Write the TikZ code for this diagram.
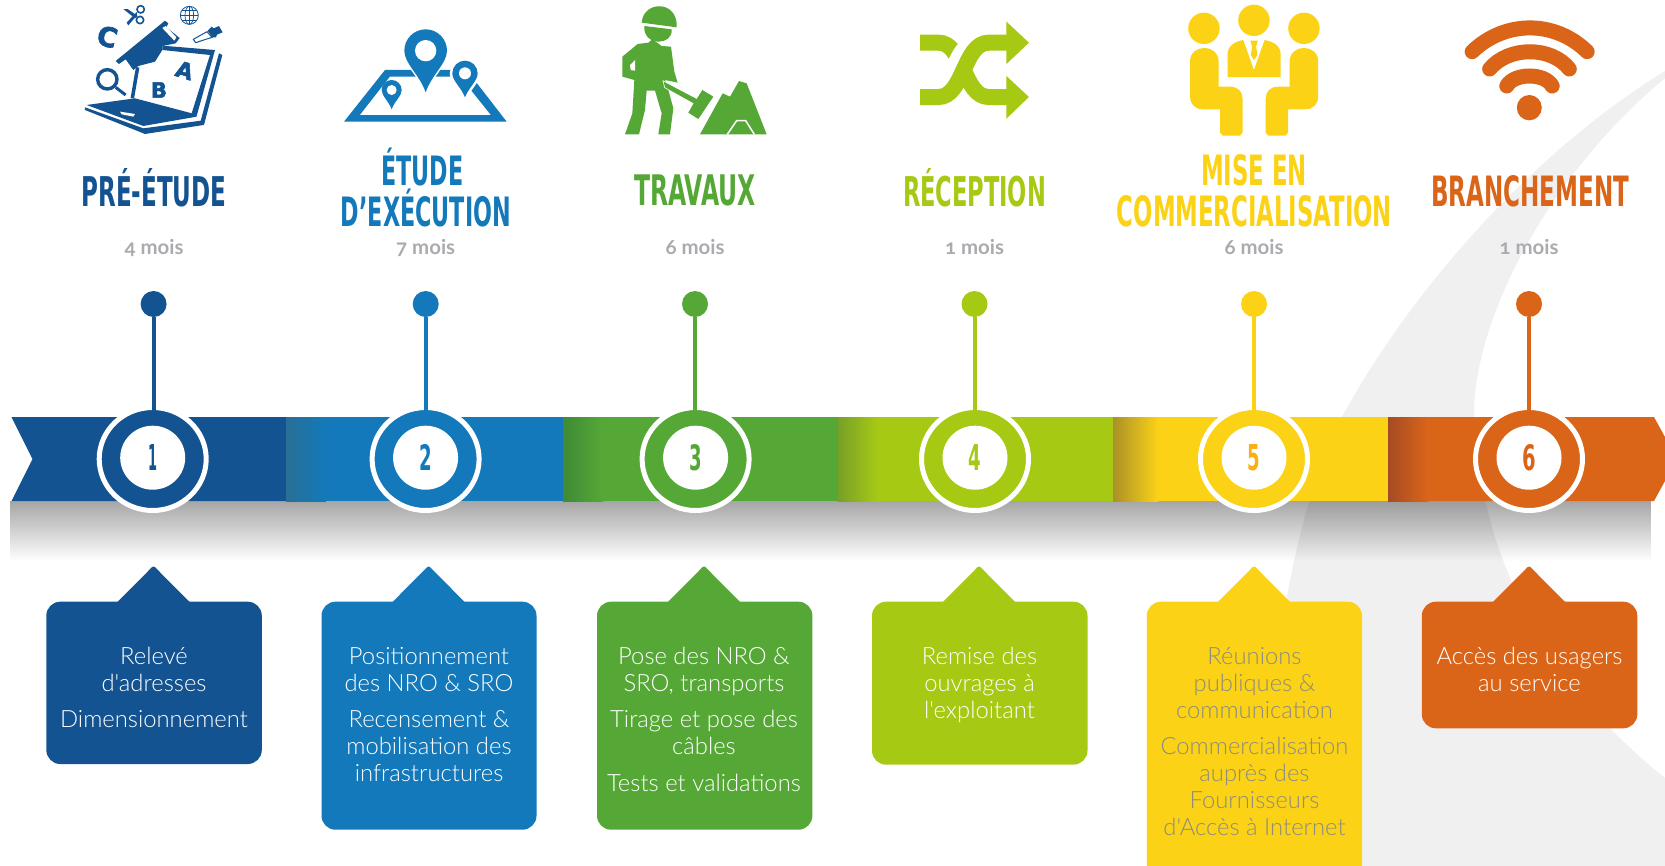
\documentclass[tikz,border=0pt]{standalone}
\usepackage{fontspec}
\usetikzlibrary{shapes.geometric,fadings}
\newfontfamily\titlefont{DejaVu Sans}
\newfontfamily\bodyfont{Lato Light}
\newfontfamily\monthfont{Lato}[Numbers=OldStyle]
\newfontfamily\iconfont{DejaVu Sans Bold}[FakeBold=2.5]
\definecolor{c1}{HTML}{135391}
\definecolor{c2}{HTML}{1379BA}
\definecolor{c3}{HTML}{56A836}
\definecolor{c4}{HTML}{A6C914}
\definecolor{c5}{HTML}{FBD216}
\definecolor{c6}{HTML}{DA6519}
\definecolor{n5}{HTML}{F8B016}
\definecolor{monthgray}{HTML}{A9ABAE}
\definecolor{swoosh}{HTML}{F0F0F1}
\definecolor{body5}{HTML}{8D8C80}
\tikzfading[name=shadowfade,top color=transparent!65,middle color=transparent!88,bottom color=transparent!100]
\tikzset{
 ttl/.style={anchor=base,inner sep=0pt,text=#1,font=\titlefont\bfseries},
 month/.style={anchor=base,inner sep=0pt,text=monthgray,font=\monthfont\bfseries\fontsize{20.4}{24}\selectfont},
 dot/.style={circle,fill=#1,inner sep=0pt,minimum size=26pt},
 ring/.style={ellipse,fill=#1,draw=white,line width=5pt,inner sep=0pt,outer sep=0pt,minimum width=107pt,minimum height=103pt},
 hub/.style={ellipse,fill=white,text=#1,inner sep=0pt,minimum width=65pt,minimum height=64pt,font=\titlefont\bfseries},
 stem/.style={draw=#1,line width=4pt,shorten >=-3pt},
 bodytext/.style={anchor=north,inner sep=0pt,align=center,text=#1,font=\bodyfont\fontsize{23.8}{27}\selectfont},
}
% \calloutbg{colour}{x1}{x2}{ybottom}{tipx}
\newcommand{\calloutbg}[5]{%
 \fill[#1,rounded corners=14pt] (#2,601.7) rectangle (#3,#4);
 \fill[#1,rounded corners=2pt] ({#5-46},612) -- (#5,565.7) -- ({#5+46},612) -- cycle;}
% \mappin{cx}{cy}{r}{tipy}
\newcommand{\mappin}[4]{(#1,#4) .. controls ({#1-.3*#3},{#2+1.1*#3}) and ({#1-#3},{#2+.6*#3}) .. ({#1-#3},#2) arc[start angle=180,end angle=360,radius=#3] .. controls ({#1+#3},{#2+.6*#3}) and ({#1+.3*#3},{#2+1.1*#3}) .. (#1,#4) -- cycle}
\begin{document}
\begin{tikzpicture}[x=1pt,y=-1pt]
\clip (0,0) rectangle (1665,865);
\fill[white] (0,0) rectangle (1665,865);
% swoosh
\fill[swoosh] (1670,68) .. controls (1534,150) and (1411,290) .. (1342,417)
 .. controls (1310,480) and (1290,560) .. (1270,700) -- (1255,870) -- (1670,870) -- (1670,782)
 .. controls (1590,720) and (1482,600) .. (1474,417) .. controls (1472,330) and (1540,180) .. (1670,74) -- cycle;
% shadow
\fill[black,path fading=shadowfade] (11.5,501) rectangle (1654,561);
% ribbon
\fill[c1] (11.5,417) -- (287,417) -- (287,501) -- (11.5,501) -- (32.5,459) -- cycle;
\fill[c2] (286,417) rectangle (564,501);
\fill[c3] (563,417) rectangle (839,501);
\fill[c4] (838,417) rectangle (1114,501);
\fill[c5] (1113,417) rectangle (1389,501);
\fill[c6] (1388,417) -- (1654,417) -- (1677,459) -- (1654,501) -- (1388,501) -- cycle;
\fill[left color={rgb,255:red,40;green,112;blue,150},right color=c2] (286,417) rectangle (326,501);
\fill[left color={rgb,255:red,62;green,138;blue,54},right color=c3] (563,417) rectangle (603,501);
\fill[left color={rgb,255:red,120;green,160;blue,40},right color=c4] (838,417) rectangle (878,501);
\fill[left color={rgb,255:red,170;green,145;blue,40},right color=c5] (1113,417) rectangle (1158,501);
\fill[left color={rgb,255:red,165;green,75;blue,35},right color=c6] (1388,417) rectangle (1428,501);
% pins and rings
\node[dot=c1] (d1) at (153.6,304) {};
\node[dot=c2] (d2) at (425.7,304) {};
\node[dot=c3] (d3) at (695,304) {};
\node[dot=c4] (d4) at (974.5,304) {};
\node[dot=c5] (d5) at (1254,304) {};
\node[dot=c6] (d6) at (1529,304) {};
\node[ring=c1] (r1) at (152.7,459) {};
\node[ring=c2] (r2) at (425.6,459) {};
\node[ring=c3] (r3) at (695.6,459) {};
\node[ring=c4] (r4) at (975,459) {};
\node[ring=c5] (r5) at (1254,459) {};
\node[ring=c6] (r6) at (1529,459) {};
\draw[stem=c1] (d1) -- (d1 |- r1.north);
\draw[stem=c2] (d2) -- (d2 |- r2.north);
\draw[stem=c3] (d3) -- (d3 |- r3.north);
\draw[stem=c4] (d4) -- (d4 |- r4.north);
\draw[stem=c5] (d5) -- (d5 |- r5.north);
\draw[stem=c6] (d6) -- (d6 |- r6.north);
\node[hub=c1] (n1) at (152.7,457.7) {\resizebox{9pt}{26pt}{1}};
\node[hub=c2] (n2) at (425.6,457.7) {\resizebox{12.6pt}{26pt}{2}};
\node[hub=c3] (n3) at (695.6,457.7) {\resizebox{12.6pt}{26pt}{3}};
\node[hub=c4] (n4) at (975,457.7) {\resizebox{12.6pt}{26pt}{4}};
\node[hub=n5] (n5) at (1254,457.7) {\resizebox{12.6pt}{26pt}{5}};
\node[hub=c6] (n6) at (1529,457.7) {\resizebox{13.6pt}{26pt}{6}};
% titles
\node[ttl=c1] (t1) at (154,206) {\resizebox{145pt}{38pt}{PRÉ-ÉTUDE}};
\node[ttl=c2] (t2a) at (422.5,185) {\resizebox{82pt}{37.5pt}{ÉTUDE}};
\node[ttl=c2] (t2b) at (426,226.7) {\resizebox{170pt}{37.5pt}{D’EXÉCUTION}};
\node[ttl=c3] (t3) at (695,205.7) {\resizebox{122pt}{30.7pt}{TRAVAUX}};
\node[ttl=c4] (t4) at (974.5,206) {\resizebox{143pt}{38pt}{RÉCEPTION}};
\node[ttl=c5] (t5a) at (1254,185) {\resizebox{106pt}{31pt}{MISE EN}};
\node[ttl=c5] (t5b) at (1254.5,226.7) {\resizebox{275pt}{31pt}{COMMERCIALISATION}};
\node[ttl=c6] (t6) at (1530,206) {\resizebox{198pt}{31pt}{BRANCHEMENT}};
% durations
\node[month] (m1) at (154,254) {4 mois};
\node[month] (m2) at (425.7,254) {7 mois};
\node[month] (m3) at (695,254) {6 mois};
\node[month] (m4) at (974.5,254) {1 mois};
\node[month] (m5) at (1254,254) {6 mois};
\node[month] (m6) at (1529,254) {1 mois};
% callouts
\calloutbg{c1}{46.3}{261.8}{764}{153.5}
\calloutbg{c2}{321.5}{536.5}{829.7}{428.6}
\calloutbg{c3}{597}{812.4}{829.7}{704}
\calloutbg{c4}{872}{1087.5}{764.6}{979}
\calloutbg{c5}{1146.8}{1362}{882}{1254}
\calloutbg{c6}{1421.8}{1637.3}{728.3}{1529}
\node[bodytext=white] (b1) at (154,645.3) {\strut Relevé\\d'adresses\\[9.5pt]Dimensionnement};
\node[bodytext=white] (b2) at (429,645.3) {\strut Positionnement\\des NRO \& SRO\\[9.5pt]Recensement \&\\mobilisation des\\infrastructures};
\node[bodytext=white] (b3) at (704,645.3) {\strut Pose des NRO \&\\SRO, transports\\[9.5pt]Tirage et pose des\\câbles\\[9.5pt]Tests et validations};
\node[bodytext=white] (b4) at (979.5,645.3) {\strut Remise des\\ouvrages à\\l'exploitant};
\node[bodytext=body5] (b5) at (1254.5,645.3) {\strut Réunions\\publiques \&\\communication\\[9.5pt]Commercialisation\\auprès des\\Fournisseurs\\d'Accès à Internet};
\node[bodytext=white] (b6) at (1529.5,645.3) {\strut Accès des usagers\\au service};
% icon 1
\begin{scope}[shift={(75,0)},x=.3333pt,y=-.3333pt]
 \fill[c1] (122,183) -- (270,62) -- (280,70) -- (274,82) -- (314,114) -- (302,130) -- (262,138) -- (262,150) -- (240,185) -- (190,198) -- (175,210) -- (152,178) -- (132,192) -- cycle;
 \fill[white] (262,84) -- (272,78) -- (304,112) -- (298,122) -- cycle;
 \draw[c1,line width=3.5pt] (188,202) -- (172,295);
 \fill[c1] (262,137) -- (420,150) -- (365,348) -- (350,340) -- (405,165) -- (262,150) -- cycle;
 \fill[c1] (432,160) -- (442,165) -- (387,375) -- (375,370) -- cycle;
 \fill[c1] (35,315) -- (180,295) -- (358,342) -- (365,350) -- (205,378) -- cycle;
 \fill[c1] (30,322) -- (205,385) -- (378,362) -- (386,375) -- (210,402) -- (30,330) -- cycle;
 \fill[white] (135,335) -- (180,342) -- (175,350) -- (140,343) -- cycle;
 \node[inner sep=0pt,text=c1,font=\iconfont\fontsize{21}{21}\selectfont] (iconB) at (252,270) {B};
 \node[inner sep=0pt,text=c1,rotate=-17,font=\iconfont\fontsize{22}{22}\selectfont] (iconA) at (329,211) {A};
 \node[inner sep=0pt,text=c1,rotate=-15,font=\iconfont\fontsize{27}{27}\selectfont] (iconC) at (97,110) {C};
 \draw[c1,line width=3.4pt] (97,238) circle [radius=29];
 \draw[c1,line width=3pt] (122,262) -- (152,285);
 \draw[c1,line width=1.6pt] (197,28) circle [radius=11];
 \draw[c1,line width=1.6pt] (195,60) circle [radius=11];
 \fill[c1] (145,27) -- (158,27) -- (188,48) -- (180,55) -- cycle;
 \fill[c1] (160,76) -- (155,68) -- (176,45) -- (186,36) -- (186,46) -- cycle;
 \draw[c1,line width=.8pt] (343,46) circle [radius=27];
 \draw[c1,line width=.7pt] (343,46) ellipse [x radius=13,y radius=27];
 \draw[c1,line width=.7pt] (343,19) -- (343,73) (316,46) -- (370,46) (320,32) -- (366,32) (320,60) -- (366,60);
 \fill[c1] (398,92) -- (410,80) -- (416,85) -- (432,78) -- (443,97) -- (426,104) -- (423,112) -- (412,112) -- cycle;
 \draw[c1,line width=1pt,fill=white] (355,118) -- (396,95) -- (411,112) -- (362,128) -- cycle;
\end{scope}
% icon 2
\begin{scope}[shift={(340,20)},x=.3333pt,y=-.3333pt]
 \fill[c2] (12,305) -- (135,150) -- (380,150) -- (500,305) -- cycle;
 \fill[white] (60,285) -- (150,170) -- (360,170) -- (452,285) -- cycle;
 \draw[white,line width=3pt,fill=white] \mappin{257}{92}{64}{217};
 \draw[white,line width=5pt,fill=white] \mappin{375}{160}{38}{232};
 \fill[c2] \mappin{257}{92}{64}{217};
 \fill[c2] \mappin{375}{160}{38}{232};
 \fill[white] (375,160) circle [radius=18];
 \fill[white] (257,92) circle [radius=32];
 \fill[c2] \mappin{155}{210}{30}{268};
 \fill[white] (155,210) circle [radius=15];
\end{scope}
% icon 3
\begin{scope}[shift={(615,0)},x=.3333pt,y=-.3333pt]
 \fill[c3] (80,68) .. controls (85,0) and (190,0) .. (185,82) -- cycle;
 \fill[c3] (88,78) -- (170,88) .. controls (172,115) and (150,125) .. (130,125) .. controls (105,125) and (85,105) .. (88,78) -- cycle;
 \fill[c3] (100,128) -- (68,132) -- (22,170) -- (22,230) -- (58,240) -- (52,340) -- (30,403) -- (72,403) -- (90,330) -- (95,272) -- (120,272) -- (140,340) -- (130,403) -- (165,403) -- (175,325) -- (158,262) -- (150,240) -- (188,248) -- (178,215) -- (168,140) -- (140,138) -- (112,118) -- cycle;
 \fill[white] (60,180) -- (45,195) -- (47,210) -- (60,212) -- cycle;
 \draw[white,line width=1.5pt] (146,245) -- (245,297) -- (262,270) -- (295,290) -- (250,357) -- (220,338) -- (236,310) -- (150,262) -- cycle;
 \fill[c3] (146,245) -- (245,297) -- (262,270) -- (295,290) -- (250,357) -- (220,338) -- (236,310) -- (150,262) -- cycle;
 \fill[c3] (255,403) -- (323,280) -- (345,290) -- (372,243) -- (395,250) -- (455,403) -- cycle;
 \draw[white,line width=1.5pt] (337,403) -- (365,362) -- (392,362) -- (418,403);
\end{scope}
% icon 4
\begin{scope}[shift={(560,0)},x=.35714pt,y=-.33333pt]
 \draw[c4,line width=16pt] (1008,128) -- (1060,128) .. controls (1130,128) and (1130,291) .. (1200,291) -- (1252,291);
 \fill[c4] (1250,228) -- (1313,291) -- (1250,356) -- cycle;
 \draw[white,line width=21pt] (1085,258) .. controls (1110,220) and (1115,160) .. (1160,130);
 \draw[c4,line width=16pt] (1008,291) -- (1060,291) .. controls (1130,291) and (1130,128) .. (1200,128) -- (1252,128);
 \fill[c4] (1250,65) -- (1313,128) -- (1250,192) -- cycle;
\end{scope}
% icon 5
\begin{scope}[shift={(1105,0)},x=.35714pt,y=-.33333pt]
 \fill[c5] (277,85) ellipse [x radius=44,y radius=47];
 \fill[c5] (417,61) ellipse [x radius=44,y radius=47];
 \fill[c5] (557,85) ellipse [x radius=44,y radius=47];
 \fill[c5] (343,228) -- (343,165) .. controls (343,135) and (365,125) .. (387,120) -- (417,210) -- (447,120) .. controls (470,125) and (492,135) .. (492,165) -- (492,231) -- (343,231) -- cycle;
 \fill[c5] (407,122) -- (428,122) -- (423,140) -- (427,165) -- (417,180) -- (408,165) -- (412,140) -- cycle;
 \fill[c5] (238,185) .. controls (238,130) and (318,130) .. (318,185) -- (318,260) -- (350,260) .. controls (372,260) and (385,275) .. (385,295) -- (385,398) -- (378,407) -- (330,407) -- (322,398) -- (322,328) -- (275,328) .. controls (250,328) and (238,310) .. (238,290) -- cycle;
 \fill[c5] (597,185) .. controls (597,130) and (517,130) .. (517,185) -- (517,260) -- (485,260) .. controls (463,260) and (450,275) .. (450,295) -- (450,398) -- (457,407) -- (505,407) -- (513,398) -- (513,328) -- (560,328) .. controls (585,328) and (597,310) .. (597,290) -- cycle;
 % icon 6
 \draw[c6,line width=15pt,line cap=round] (1028,155) .. controls (1120,60) and (1260,60) .. (1350,155);
 \draw[c6,line width=15pt,line cap=round] (1077,207) .. controls (1130,138) and (1250,138) .. (1300,207);
 \draw[c6,line width=15pt,line cap=round] (1125,258) .. controls (1145,218) and (1232,218) .. (1252,258);
 \fill[c6] (1188,323) ellipse [x radius=35,y radius=38];
\end{scope}
\end{tikzpicture}
\end{document}
